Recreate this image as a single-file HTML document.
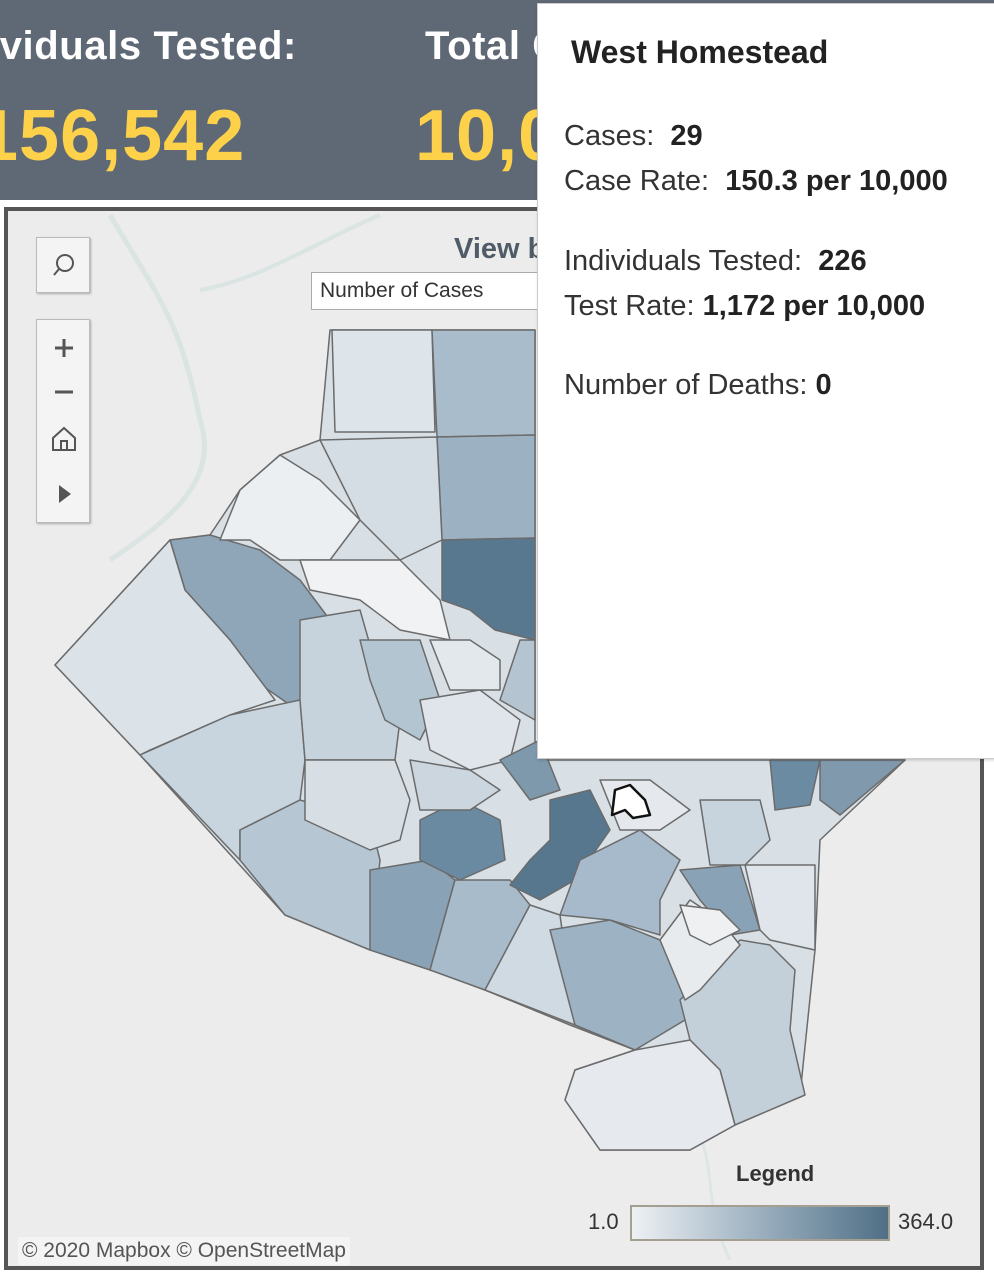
<!DOCTYPE html>
<html><head><meta charset="utf-8"><style>
body{margin:0;width:994px;height:1272px;position:relative;overflow:hidden;background:#fff;font-family:"Liberation Sans",sans-serif}
.hdr{position:absolute;left:0;top:0;width:994px;height:200px;background:#5f6875}
.t{position:absolute;color:#fff;font-size:40px;font-weight:bold;white-space:nowrap;letter-spacing:0.6px}
.n{position:absolute;color:#fdd24a;font-size:72px;font-weight:bold;white-space:nowrap;letter-spacing:1px}
.frame{position:absolute;left:4px;top:207px;width:972px;height:1055px;border:4px solid #555;background:#ececec;overflow:hidden}
.tip{position:absolute;left:537px;top:3px;width:456px;height:754px;background:#fff;border:1px solid #ccc;color:#333;box-shadow:1px 1px 3px rgba(0,0,0,0.2)}
.tip div{position:absolute;left:26px;font-size:29px;white-space:nowrap}
.tip b{color:#222}
.ctl{position:absolute;background:#f4f4f4;border:1px solid #bbb;box-shadow:1px 1px 2px #aaa}
</style></head><body>
<div class="hdr"></div>
<div class="t" style="left:-12px;top:24px">ividuals Tested:</div>
<div class="t" style="left:425px;top:24px">Total C</div>
<div class="n" style="left:-22px;top:95px">156,542</div>
<div class="n" style="left:415px;top:95px">10,0</div>
<div class="frame">
<svg width="972" height="1055" viewBox="8 211 972 1055" style="position:absolute;left:0;top:0">
<g opacity="0.6">
<path d="M110 215 C160 300 180 320 200 420 C220 480 170 520 110 560" stroke="#cfe0de" stroke-width="5" fill="none"/>
<path d="M200 290 C260 280 320 240 380 215" stroke="#cfe0de" stroke-width="4" fill="none"/>
<path d="M690 1120 C720 1160 700 1200 730 1260" stroke="#d5e3e1" stroke-width="3" fill="none"/>
</g>
<g stroke="#6b6b6b" stroke-width="1.5" stroke-linejoin="round">
<path d="M55 665 L170 540 L210 535 L240 490 L280 455 L320 440 L330 330 L535 330 L535 760 L905 760 L820 840 L815 950 L800 1095 L735 1125 L690 1150 L600 1150 L565 1100 L575 1070 L635 1050 L570 1025 L485 990 L285 915 L140 755 Z" fill="#d8e0e6"/>
<path d="M332 330 L432 330 L435 432 L335 432 Z" fill="#dde4ea"/>
<path d="M432 330 L535 330 L535 435 L437 437 Z" fill="#a9bccb"/>
<path d="M437 437 L535 435 L535 538 L442 540 Z" fill="#9cb2c3"/>
<path d="M442 540 L535 538 L535 640 L495 630 L470 610 L442 600 Z" fill="#58788f"/>
<path d="M320 440 L437 437 L442 540 L400 560 L360 520 Z" fill="#d5dde4"/>
<path d="M170 540 L210 535 L260 550 L300 580 L330 620 L320 690 L290 705 L240 670 L230 640 L185 590 Z" fill="#8ea6b8"/>
<path d="M55 665 L170 540 L185 590 L230 640 L275 700 L230 715 L150 750 L140 755 Z" fill="#dbe2e8"/>
<path d="M140 755 L230 715 L300 700 L305 760 L300 800 L240 830 L240 860 Z" fill="#c9d5de"/>
<path d="M240 830 L300 800 L370 820 L380 860 L375 910 L370 950 L285 915 L240 860 Z" fill="#b6c6d3"/>
<path d="M370 870 L430 860 L455 880 L430 970 L370 950 Z" fill="#8aa2b5"/>
<path d="M455 880 L510 880 L530 905 L485 990 L430 970 Z" fill="#a8bbca"/>
<path d="M530 905 L560 915 L575 1025 L485 990 Z" fill="#d0dae2"/>
<path d="M550 930 L610 920 L660 940 L690 980 L685 1020 L635 1050 L575 1025 Z" fill="#9db2c3"/>
<path d="M300 620 L360 610 L380 680 L400 720 L395 760 L305 760 L300 700 Z" fill="#c6d3dc"/>
<path d="M305 760 L395 760 L410 800 L400 840 L370 850 L305 820 Z" fill="#d7dfe5"/>
<path d="M420 820 L460 800 L500 820 L505 860 L460 880 L420 860 Z" fill="#6a8aa1"/>
<path d="M550 800 L590 790 L610 830 L575 880 L540 900 L510 885 L530 860 L550 840 Z" fill="#57778e"/>
<path d="M580 860 L640 830 L680 860 L660 900 L660 935 L610 920 L560 915 Z" fill="#a7bacb"/>
<path d="M680 870 L740 865 L760 930 L730 935 L700 900 Z" fill="#8aa2b5"/>
<path d="M745 865 L815 865 L815 950 L770 940 L760 930 Z" fill="#dfe5ea"/>
<path d="M700 800 L760 800 L770 840 L745 865 L710 865 Z" fill="#c8d4dd"/>
<path d="M770 760 L820 760 L810 805 L775 810 Z" fill="#6b8ba2"/>
<path d="M820 760 L905 760 L840 815 L820 800 Z" fill="#8199ad"/>
<path d="M680 1000 L740 940 L770 945 L795 970 L790 1030 L805 1095 L735 1125 L720 1070 L690 1040 Z" fill="#c3d0da"/>
<path d="M565 1100 L575 1070 L635 1050 L690 1040 L720 1070 L735 1125 L690 1150 L600 1150 Z" fill="#e6e9ed"/>
<path d="M660 940 L690 900 L720 920 L740 945 L700 990 L685 1000 Z" fill="#e8ebee"/>
<path d="M360 640 L420 640 L440 700 L420 740 L385 720 L370 680 Z" fill="#b4c5d2"/>
<path d="M420 700 L480 690 L520 720 L510 760 L470 770 L430 750 Z" fill="#dfe5ea"/>
<path d="M410 760 L470 770 L500 790 L470 810 L420 810 Z" fill="#cbd6df"/>
<path d="M500 760 L540 740 L560 790 L530 800 Z" fill="#7e98ac"/>
<path d="M600 780 L650 780 L690 810 L660 830 L620 830 Z" fill="#e5e9ed"/>
<path d="M520 640 L535 640 L535 720 L500 700 Z" fill="#b4c4d1"/>
<path d="M240 490 L280 455 L320 480 L360 520 L330 560 L280 560 L250 540 L220 540 Z" fill="#eceff2"/>
<path d="M300 560 L400 560 L440 600 L450 640 L400 630 L360 600 L310 590 Z" fill="#f0f2f4"/>
<path d="M430 640 L470 640 L500 660 L500 690 L450 690 Z" fill="#e3e8ec"/>
<path d="M680 905 L720 910 L740 930 L710 945 L690 935 Z" fill="#eef0f2"/>
<path d="M615 790 L630 785 L645 800 L650 815 L633 818 L625 810 L612 815 Z" fill="#fff" stroke="#111" stroke-width="2.5"/>
</g>
</svg>
<div class="ctl" style="left:28px;top:26px;width:52px;height:54px"><svg width="52" height="54"><circle cx="28" cy="25" r="8" stroke="#555" stroke-width="2" fill="none"/><line x1="22" y1="31" x2="17" y2="37" stroke="#555" stroke-width="2"/></svg></div>
<div class="ctl" style="left:28px;top:108px;width:52px;height:202px"><svg width="52" height="202" stroke="#555" stroke-width="3" fill="none"><path d="M18 28 H36 M27 19 V37 M18 72 H36"/><path d="M16 118 L27 108 L38 118 V130 H16 Z M24 130 V121 H30 V130" stroke-width="2"/><path d="M22 165 L34 174 L22 183 Z" fill="#555" stroke="none"/></svg></div>
<div style="position:absolute;left:446px;top:22px;font-size:29px;font-weight:bold;color:#4f5b66">View by</div>
<div style="position:absolute;left:303px;top:61px;width:240px;height:36px;background:#fff;border:1px solid #aaa;font-size:21px;color:#333;line-height:36px;padding-left:8px">Number of Cases</div>
<div style="position:absolute;left:728px;top:950px;font-size:22px;font-weight:bold;color:#333">Legend</div>
<div style="position:absolute;left:580px;top:998px;font-size:22px;color:#333">1.0</div>
<div style="position:absolute;left:622px;top:994px;width:256px;height:32px;border:2px solid #a59f91;background:linear-gradient(to right,#eef1f3,#a3b6c5 45%,#4f6f86)"></div>
<div style="position:absolute;left:890px;top:998px;font-size:22px;color:#333">364.0</div>
<div style="position:absolute;left:10px;top:1026px;padding:2px 4px;background:#f4f4f4;font-size:21px;color:#555">© 2020 Mapbox  © OpenStreetMap</div>
</div>
<div class="tip">
<div style="top:30px;font-size:32px;font-weight:bold;color:#222;left:33px">West Homestead</div>
<div style="top:116px">Cases:&nbsp; <b>29</b></div>
<div style="top:161px">Case Rate:&nbsp; <b>150.3 per 10,000</b></div>
<div style="top:241px">Individuals Tested:&nbsp; <b>226</b></div>
<div style="top:286px">Test Rate: <b>1,172 per 10,000</b></div>
<div style="top:365px">Number of Deaths: <b>0</b></div>
</div>
</body></html>
